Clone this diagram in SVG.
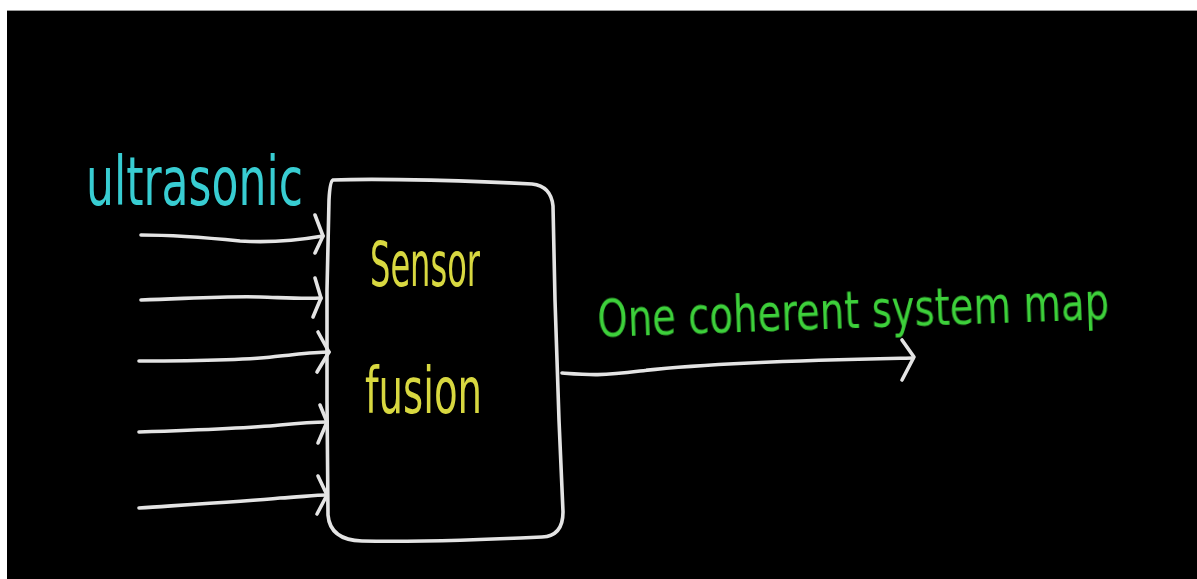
<svg xmlns="http://www.w3.org/2000/svg" width="1197" height="579" viewBox="0 0 1197 579">
  <defs>
    <style>
      .chalk { fill: none; stroke: #e4e4e4; stroke-width: 3.6; stroke-linecap: round; stroke-linejoin: round; }
      .hand { font-family: "Liberation Sans Narrow", "DejaVu Sans Condensed", "Liberation Sans", sans-serif; font-weight: normal; }
      .cyan { fill: #38cdd2; }
      .yellow { fill: #d8d840; }
      .green { fill: #3dd03a; }
    </style>
    <filter id="soft" x="-5%" y="-5%" width="110%" height="110%">
      <feGaussianBlur stdDeviation="0.6"/>
    </filter>
  </defs>

  <!-- page and blackboard -->
  <rect x="0" y="0" width="1197" height="579" fill="#ffffff"/>
  <rect x="7" y="10" width="1190" height="569" fill="#000000"/>
  <line x1="7" y1="10.5" x2="1197" y2="10.5" stroke="#9a9a9a" stroke-width="1"/>

  <g filter="url(#soft)">
    <!-- input label -->
    <g id="label-ultrasonic">
      <text class="hand cyan" x="86" y="205" font-size="68" textLength="217" lengthAdjust="spacingAndGlyphs">ultrasonic</text>
    </g>

    <!-- fusion block -->
    <g id="sensor-fusion">
      <path class="chalk" d="M 333,180 C 380,178 480,181 532,184 Q 551,186 553,206 L 555,300 L 559,420 L 563,512 Q 563,536 542,537 C 480,540 420,542 362,541 Q 330,540 328,515 L 327,400 L 327,290 L 329,200 Q 330,181 333,180 Z"/>
      <text class="hand yellow" x="370" y="286" font-size="62" textLength="110" lengthAdjust="spacingAndGlyphs">Sensor</text>
      <text class="hand yellow" x="365" y="413" font-size="64" textLength="117" lengthAdjust="spacingAndGlyphs">fusion</text>
    </g>

    <!-- output label, baseline tilted slightly upward, letters drawn tall -->
    <g id="label-output">
      <text class="hand green" x="0" y="0" font-size="43" textLength="512" lengthAdjust="spacingAndGlyphs" transform="translate(598 337) rotate(-2) scale(1 1.2)">One coherent system map</text>
    </g>

    <!-- connectors -->
    <g id="connectors">
      <path class="chalk" d="M 141,235 C 180,235 210,238 240,241 C 270,243 300,240 323,236"/>
      <path class="chalk" d="M 315,215 L 323,236 L 315,253"/>

      <path class="chalk" d="M 141,300 C 200,298 230,296 260,297 C 290,298 305,299 321,298"/>
      <path class="chalk" d="M 315,278 L 321,298 L 313,317"/>

      <path class="chalk" d="M 139,361 C 200,361 250,360 280,356 C 300,354 315,352 329,352"/>
      <path class="chalk" d="M 318,332 L 329,352 L 317,372"/>

      <path class="chalk" d="M 139,432 C 200,430 250,428 280,425 C 300,423 315,422 327,422"/>
      <path class="chalk" d="M 320,405 L 327,422 L 318,443"/>

      <path class="chalk" d="M 139,508 C 200,504 250,501 280,498 C 300,497 315,495 327,495"/>
      <path class="chalk" d="M 318,476 L 327,495 L 317,514"/>

      <path class="chalk" d="M 562,373 C 590,375 600,376 640,371 C 700,364 800,360 913,358"/>
      <path class="chalk" d="M 902,340 L 914,357 L 902,380"/>
    </g>
  </g>
</svg>
